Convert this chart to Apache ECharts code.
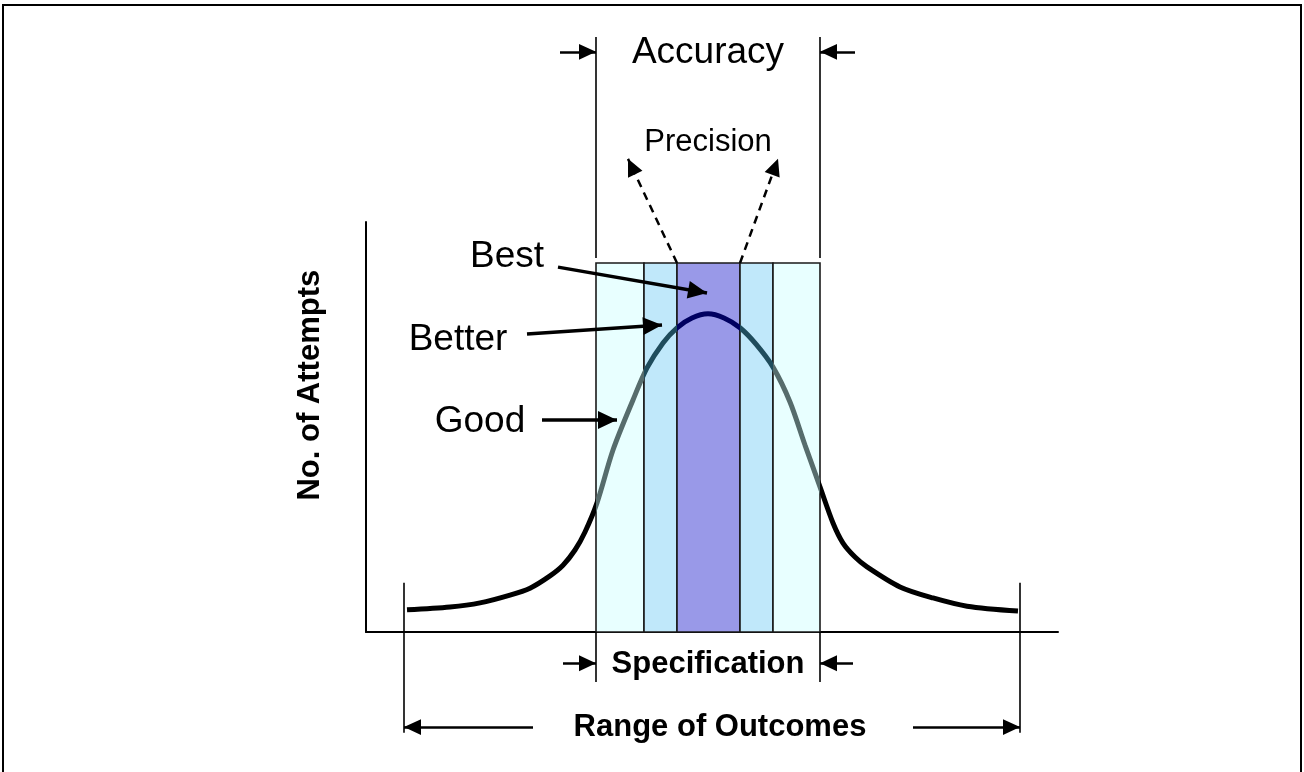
<!DOCTYPE html>
<html>
<head>
<meta charset="utf-8">
<script src="https://cdn.jsdelivr.net/npm/echarts@6/dist/echarts.min.js"></script>
<style>
html,body{margin:0;padding:0;background:#fff;}
#chart{width:1304px;height:772px;}
</style>
</head>
<body>
<div id="chart"></div>
<script>
// ---- Data (x: outcome units, 0 = target; y: number of attempts, 0..100) ----
const curveX = [-30.1,-25.8,-22.8,-19.8,-17.8,-15.8,-14.5,-13.3,-12.3,-11.1,-9.5,-7.5,-6.1,-4.5,-3.1,-1.6,0,1.6,3.2,4.8,6.5,8.2,9.7,11.2,12.5,13.5,14.7,15.9,19.2,22.5,25.9,31.0];
const curveY = [5.4,6.1,7.1,9.0,10.7,13.7,16.3,20.0,24.4,31.5,44.4,56.6,64.4,70.5,74.2,76.6,77.6,76.6,74.2,70.2,64.6,56.1,45.6,35.4,26.6,21.7,18.3,15.9,11.0,8.3,6.3,5.1];

// Bands: [from, to, name]
const bandEdges = [-11.2,-6.4,-3.1,3.2,6.5,11.2];
const bandNames = ['Good','Better','Best','Better','Good'];
const bandTop = 90;

// Annotation texts
const labelTexts = ['Accuracy','Precision','Best','Better','Good','Specification','Range of Outcomes','No. of Attempts'];
const labelPos = [[0,141.2],[0,119.5],[-20.1,91.5],[-25.0,71.2],[-22.8,51.2],[0,-7.8],[1.2,-23.2],[-39.8,60.2]];

// Arrows / guide lines [[x1,y1],[x2,y2]]
const accuracyGuides = [[[-11.2,91.2],[-11.2,145.1]],[[11.2,91.2],[11.2,145.1]]];
const accuracyArrows = [[[-14.8,141.5],[-11.2,141.5]],[[14.7,141.5],[11.2,141.5]]];
const precisionArrows = [[[-3.1,90],[-8.0,115.4]],[[3.2,90],[7.0,115.4]]];
const pointerArrows = [[[-15.0,89.0],[-0.1,82.7]],[[-18.1,72.7],[-4.6,74.9]],[[-16.6,51.7],[-9.1,51.7]]];
const specGuides = [[[-11.2,0],[-11.2,-12.2]],[[11.2,0],[11.2,-12.2]]];
const specArrows = [[[-14.5,-7.6],[-11.2,-7.6]],[[14.5,-7.6],[11.2,-7.6]]];
const rangeGuides = [[[-30.4,12.0],[-30.4,-24.6]],[[31.2,12.0],[31.2,-24.6]]];
const rangeArrows = [[[-17.5,-23.2],[-30.4,-23.2]],[[20.5,-23.2],[31.2,-23.2]]];

// ---- Styles ----
const FONT = '"Liberation Sans", Arial, sans-serif';
const bandColors = {Good:'#e8ffff', Better:'#c0e8fa', Best:'#9999e8'};
const labelStyles = [
  {fontSize:37},{fontSize:31},{fontSize:37},{fontSize:37},{fontSize:37},
  {fontSize:31,fontWeight:'bold'},{fontSize:31,fontWeight:'bold'},{fontSize:31,fontWeight:'bold',rotate:90}
];
// arrow head in a square 32x32 box whose centre is the tip
const HEAD = 'path://M-16,0L-15.99,0M16,32L15.99,32M0,16L7.5,32L-7.5,32Z';

const chart = echarts.init(document.getElementById('chart'), null, {renderer:'canvas'});

const bandData = [];
for (let i = 0; i < bandNames.length; i++) {
  bandData.push([
    {xAxis: bandEdges[i], yAxis: 0, itemStyle:{color: bandColors[bandNames[i]], opacity:1, borderColor:'#1a1a1a', borderWidth:1.6}},
    {xAxis: bandEdges[i+1], yAxis: bandTop}
  ]);
}

function linesSeries(segs, width, extra) {
  extra = extra || {};
  return Object.assign({
    type:'lines', coordinateSystem:'cartesian2d', clip:false, silent:true, z:5,
    symbol:['none','none'],
    lineStyle:Object.assign({color:'#000', width:width, opacity:1}, extra.ls || {}),
    data: segs.map(s => ({coords:s}))
  }, extra.head ? {symbol:['none', HEAD], symbolSize:extra.head} : {});
}

chart.setOption({
  animation:false,
  backgroundColor:'#fff',
  grid:{left:366, top:222, width:692, height:410},
  xAxis:{type:'value', min:-34.2, max:35, axisLine:{show:true, onZero:false, lineStyle:{color:'#000', width:2}},
         axisTick:{show:false}, axisLabel:{show:false}, splitLine:{show:false}},
  yAxis:{type:'value', min:0, max:100, axisLine:{show:true, onZero:false, lineStyle:{color:'#000', width:2}},
         axisTick:{show:false}, axisLabel:{show:false}, splitLine:{show:false}},
  visualMap:{type:'piecewise', show:false, dimension:0, seriesIndex:1, pieces:[
    {lt:-11.2, color:'#000'},
    {gte:-11.2, lt:-6.4, color:'#566c6c'},
    {gte:-6.4, lt:-3.1, color:'#1f4c5c'},
    {gte:-3.1, lte:3.2, color:'#000060'},
    {gt:3.2, lte:6.5, color:'#1f4c5c'},
    {gt:6.5, lte:11.2, color:'#566c6c'},
    {gt:11.2, color:'#000'}
  ]},
  graphic:[{type:'rect', shape:{x:3, y:5, width:1298, height:780}, style:{fill:'none', stroke:'#000', lineWidth:2}, silent:true}],
  series:[
    {type:'line', data:[], markArea:{silent:true, data:bandData}, z:1},
    {type:'line', smooth:0.3, showSymbol:false, symbol:'none', z:3,
     lineStyle:{width:5, opacity:1}, data: curveX.map((x,i)=>[x, curveY[i]])},
    linesSeries(accuracyGuides, 1.6),
    linesSeries(accuracyArrows, 2.5, {head:34}),
    linesSeries(precisionArrows, 2.5, {head:34, ls:{type:[8,6]}}),
    linesSeries(pointerArrows, 3.5, {head:38}),
    linesSeries(specGuides, 1.6),
    linesSeries(specArrows, 2.5, {head:34}),
    linesSeries(rangeGuides, 1.6),
    linesSeries(rangeArrows, 2.5, {head:34}),
    {type:'scatter', symbolSize:0, clip:false, silent:true, z:6, itemStyle:{opacity:1},
     data: labelTexts.map((t,i)=>({name:t, value:labelPos[i],
       label:Object.assign({show:true, position:'inside', formatter:'{b}', color:'#000', opacity:1, fontFamily:FONT}, labelStyles[i])}))}
  ]
});
</script>
</body>
</html>
